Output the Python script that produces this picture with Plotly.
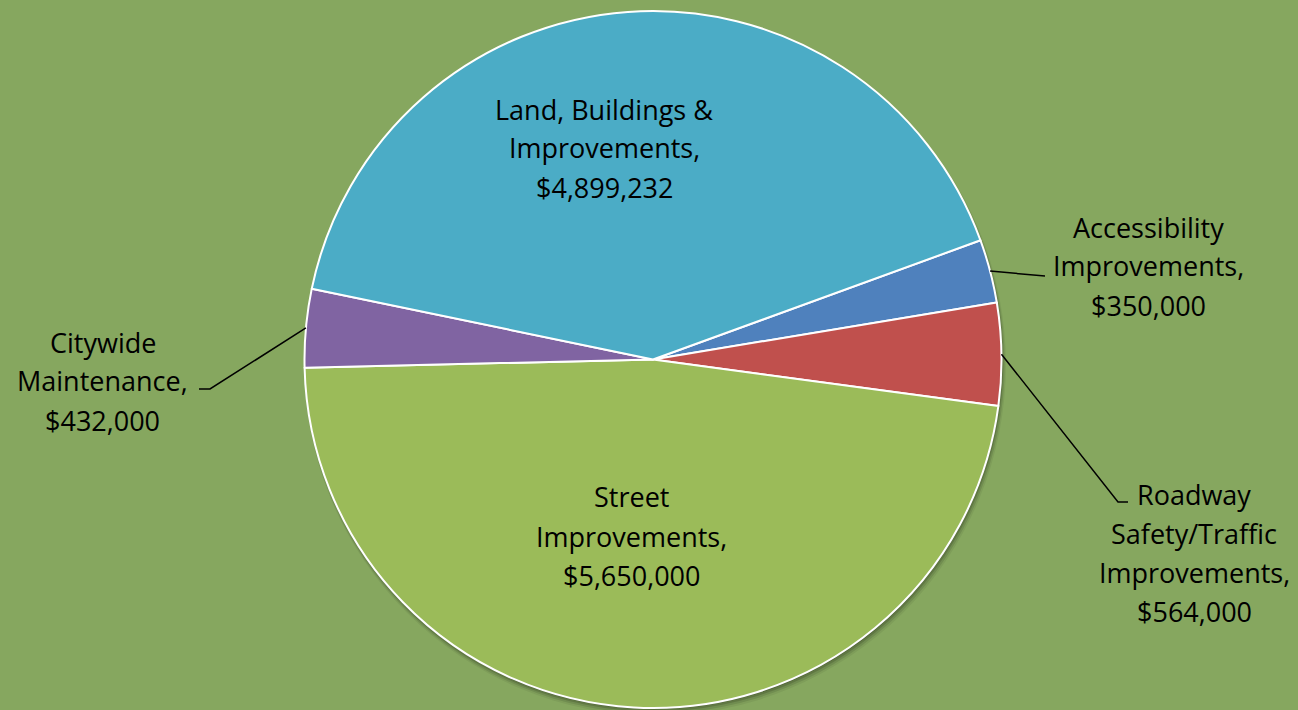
import math
import plotly.graph_objects as go

# Capital budget by program area, in the order the slices run clockwise
labels = [
    "Accessibility Improvements",
    "Roadway Safety/Traffic Improvements",
    "Street Improvements",
    "Citywide Maintenance",
    "Land, Buildings & Improvements",
]
values = [350000, 564000, 5650000, 432000, 4899232]
colors = ["#4F81BD", "#C0504D", "#9BBB59", "#8064A2", "#4BACC6"]

# Text lines of each data label (the dollar amount is appended below)
label_lines = [
    ["Accessibility", "Improvements,"],
    ["Roadway", "Safety/Traffic", "Improvements,"],
    ["Street", "Improvements,"],
    ["Citywide", "Maintenance,"],
    ["Land, Buildings &", "Improvements,"],
]

W, H = 1298, 710
BG = "#86A75F"
FONT = "Open Sans"
FONT_SIZE = 27
LINE_STEP = 39

# Pie geometry in pixels
CX, CY, R = 653.0, 359.5, 348.5
ROTATION = 70

# Centre of the first text line of each label, and the leader-line route
label_pos = [(1148, 227), (1194, 494), (631, 497), (103, 342), (604, 109)]
leader_route = [
    [(1045, 276)],
    [(1118, 502), (1128, 502)],
    None,
    [(210, 389), (199, 389)],
    None,
]


def px_x(x):
    return x / W


def px_y(y):
    return 1 - y / H


fig = go.Figure()

dom_y0 = (H - (CY + R)) / H
dom_y1 = (H - (CY - R)) / H
dom_x0 = CX / W - (1 - CX / W)

fig.add_trace(go.Pie(
    labels=labels,
    values=values,
    sort=False,
    direction="clockwise",
    rotation=ROTATION,
    marker=dict(colors=colors, line=dict(color="white", width=2)),
    textinfo="none",
    hoverinfo="label+value",
    showlegend=False,
    domain=dict(x=[dom_x0, 1.0], y=[dom_y0, dom_y1]),
))

shapes = []
# soft drop shadow beneath the pie
for k, a in enumerate([0.18, 0.14, 0.10, 0.06]):
    off = 1.5 + k * 1.2
    rr = R + k * 0.8
    shapes.append(dict(
        type="circle", xref="paper", yref="paper", layer="below",
        x0=px_x(CX + off * 0.4 - rr), x1=px_x(CX + off * 0.4 + rr),
        y0=px_y(CY + off + rr), y1=px_y(CY + off - rr),
        fillcolor=f"rgba(0,0,0,{a})", line=dict(width=0),
    ))

# leader lines start on the rim at each slice's mid-angle
total = sum(values)
start = ROTATION
annotations = []
for i, v in enumerate(values):
    sweep = 360.0 * v / total
    mid = math.radians(start + sweep / 2)
    start += sweep
    route = leader_route[i]
    if route:
        pts = [(CX + R * math.sin(mid), CY - R * math.cos(mid))] + route
        path = "M " + " L ".join(f"{px_x(x):.5f} {px_y(y):.5f}" for x, y in pts)
        shapes.append(dict(type="path", xref="paper", yref="paper", path=path,
                           line=dict(color="black", width=1.5)))
    lines = label_lines[i] + [f"${v:,}"]
    lx, ly = label_pos[i]
    for j, t in enumerate(lines):
        annotations.append(dict(
            x=px_x(lx), y=px_y(ly + j * LINE_STEP), xref="paper", yref="paper",
            text=t, showarrow=False, xanchor="center", yanchor="middle",
            font=dict(family=FONT, size=FONT_SIZE, color="black"),
        ))

fig.update_layout(
    width=W, height=H,
    margin=dict(l=0, r=0, t=0, b=0),
    paper_bgcolor=BG, plot_bgcolor=BG,
    shapes=shapes, annotations=annotations,
)

fig.write_html("out.html")
